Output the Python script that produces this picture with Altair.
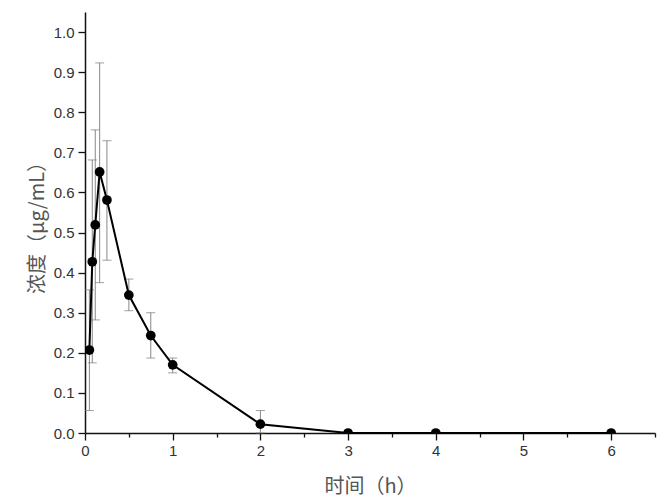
import altair as alt
import pandas as pd

# Data
time_h = [0.05, 0.083, 0.117, 0.167, 0.25, 0.5, 0.75, 1.0, 2.0, 3.0, 4.0, 6.0]
conc_mean = [0.207, 0.427, 0.519, 0.651, 0.581, 0.344, 0.243, 0.170, 0.022, 0.0, 0.0, 0.0]
err_low = [0.056, 0.175, 0.282, 0.375, 0.431, 0.305, 0.187, 0.150, 0.0, None, None, None]
err_high = [0.357, 0.681, 0.756, 0.923, 0.729, 0.384, 0.300, 0.187, 0.056, None, None, None]

y_ticks = [round(i * 0.05, 2) for i in range(0, 22)]
x_ticks = [i * 0.5 for i in range(0, 14)]

df = pd.DataFrame({"t": time_h, "c": conc_mean, "lo": err_low, "hi": err_high})

x_scale = alt.Scale(domain=[0, 6.5], nice=False, zero=False)
y_scale = alt.Scale(domain=[0, 1.05], nice=False, zero=False)

x_axis = alt.Axis(
    title="时间（h）",
    values=x_ticks,
    labelExpr="datum.value % 1 == 0 ? format(datum.value, 'd') : ''",
    labelOverlap=False,
    labelFlush=False,
    grid=False,
    tickSize={"condition": {"test": "datum.value % 1 != 0", "value": 4}, "value": 7},
    tickColor="#111",
    tickWidth=1.3,
    domainColor="#111",
    domainWidth=1.5,
    labelFont="Liberation Sans",
    labelFontSize=15,
    labelColor="#333",
    labelPadding=3,
    titleFont="Noto Sans CJK SC",
    titleFontSize=20,
    titleFontWeight="normal",
    titleColor="#555",
    titlePadding=18,
)

y_axis = alt.Axis(
    title="浓度（μg/mL）",
    values=y_ticks,
    labelExpr="round(datum.value * 100) % 10 == 0 ? format(datum.value, '.1f') : ''",
    labelOverlap=False,
    labelFlush=False,
    grid=False,
    tickSize={"condition": {"test": "round(datum.value * 100) % 10 != 0", "value": 4}, "value": 7},
    tickColor="#111",
    tickWidth=1.3,
    domainColor="#111",
    domainWidth=1.5,
    labelFont="Liberation Sans",
    labelFontSize=15,
    labelColor="#333",
    labelPadding=4,
    titleFont="Noto Sans CJK SC",
    titleFontSize=20,
    titleFontWeight="normal",
    titleColor="#555",
    titlePadding=6,
)

base = alt.Chart(df)

bars = base.mark_rule(color="#888", strokeWidth=1).encode(
    x=alt.X("t:Q", scale=x_scale, axis=x_axis),
    y=alt.Y("lo:Q", scale=y_scale, axis=y_axis),
    y2="hi:Q",
)
cap_hi = base.mark_tick(color="#777", size=9, thickness=1, orient="horizontal").encode(
    x=alt.X("t:Q", scale=x_scale), y=alt.Y("hi:Q", scale=y_scale)
)
cap_lo = base.mark_tick(color="#777", size=9, thickness=1, orient="horizontal").encode(
    x=alt.X("t:Q", scale=x_scale), y=alt.Y("lo:Q", scale=y_scale)
)
line = base.mark_line(color="#000", strokeWidth=2).encode(
    x=alt.X("t:Q", scale=x_scale), y=alt.Y("c:Q", scale=y_scale)
)
points = base.mark_circle(color="#000", size=95, opacity=1, clip=True).encode(
    x=alt.X("t:Q", scale=x_scale), y=alt.Y("c:Q", scale=y_scale)
)

chart = (
    alt.layer(bars, cap_hi, cap_lo, line, points)
    .properties(
        width=570,
        height=421,
        autosize="none",
        padding={"left": 77, "top": 4, "right": 5, "bottom": 75},
        view=alt.ViewBackground(strokeWidth=0, strokeOpacity=0, stroke="transparent"),
    )
    .configure_view(stroke="transparent", strokeWidth=0, strokeOpacity=0)
    .configure(background="white")
)

chart.save("out.html", embed_options={"renderer": "svg", "actions": False})
